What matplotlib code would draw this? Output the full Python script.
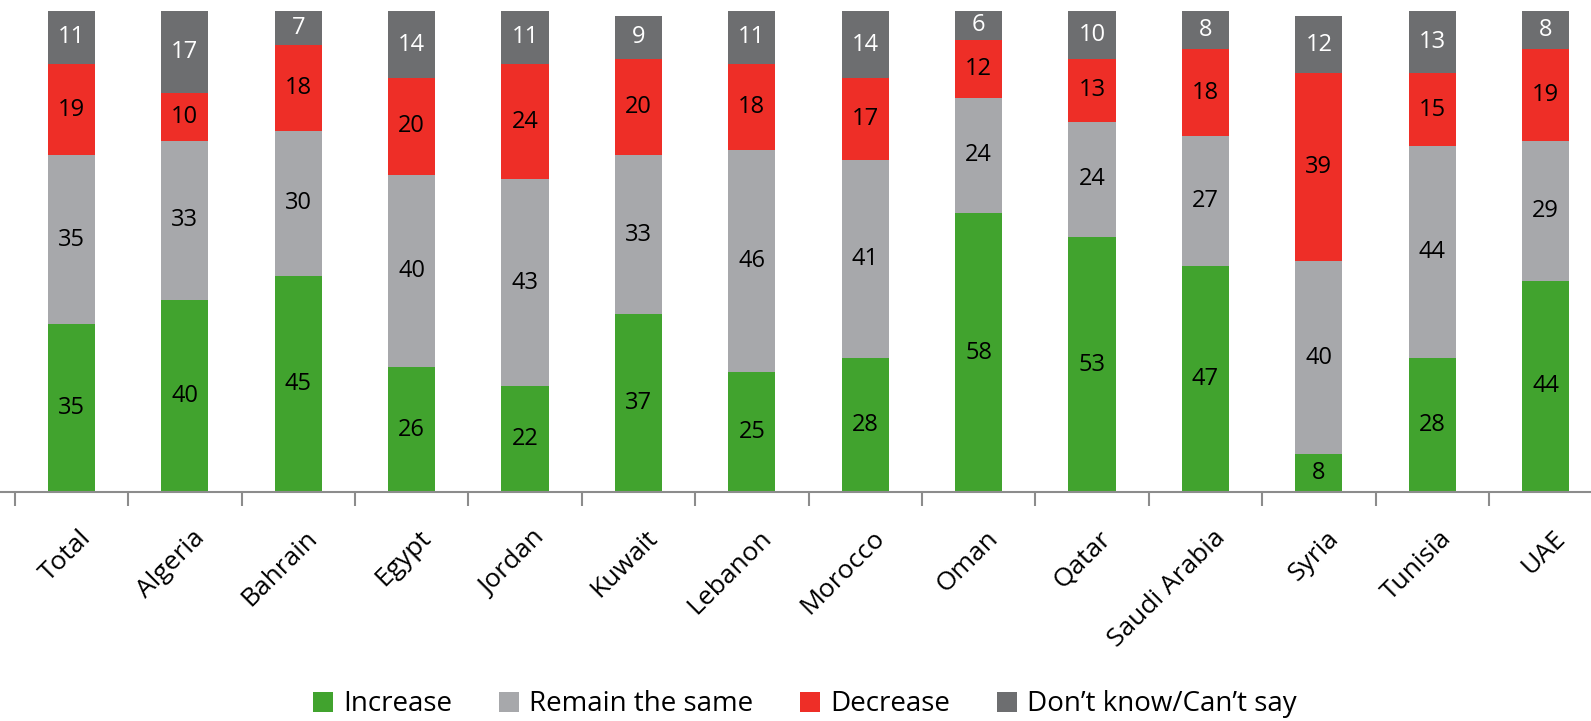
import numpy as np
import matplotlib.pyplot as plt
import matplotlib.transforms as mtransforms

countries = ["Total", "Algeria", "Bahrain", "Egypt", "Jordan", "Kuwait", "Lebanon",
             "Morocco", "Oman", "Qatar", "Saudi Arabia", "Syria", "Tunisia", "UAE"]
increase = [35, 40, 45, 26, 22, 37, 25, 28, 58, 53, 47, 8, 28, 44]
same = [35, 33, 30, 40, 43, 33, 46, 41, 24, 24, 27, 40, 44, 29]
decrease = [19, 10, 18, 20, 24, 20, 18, 17, 12, 13, 18, 39, 15, 19]
dontknow = [11, 17, 7, 14, 11, 9, 11, 14, 6, 10, 8, 12, 13, 8]

series = [("Increase", increase, "#41a32e", "black"),
          ("Remain the same", same, "#a7a8ab", "black"),
          ("Decrease", decrease, "#ee2e27", "black"),
          ("Don\u2019t know/Can\u2019t say", dontknow, "#6d6e70", "white")]

plt.rcParams['font.family'] = ['Open Sans', 'DejaVu Sans']

fig = plt.figure(figsize=(15.91, 7.21), dpi=100)
ax = fig.add_axes([0.0, 0.317, 1.0, 0.668])

x = np.arange(len(countries))
bottom = np.zeros(len(countries))
for name, vals, col, tcol in series:
    vals = np.array(vals, dtype=float)
    ax.bar(x, vals, 0.415, bottom=bottom, color=col, label=name)
    for xi, b, v in zip(x, bottom, vals):
        ax.text(xi, b + v / 2, f"{int(v)}", ha="center", va="center",
                fontsize=17, color=tcol)
    bottom += vals

ax.set_xlim(-0.5 - 14.7 / 113.4, 13.4)
ax.set_ylim(0, 100)
ax.set_yticks([])
for s in ["top", "right", "left"]:
    ax.spines[s].set_visible(False)
ax.spines["bottom"].set_color("#8c8c8c")
ax.spines["bottom"].set_linewidth(1.5)

ax.set_xticks(np.arange(len(countries)) - 0.5, minor=True)
ax.tick_params(axis="x", which="minor", length=10, width=1.5, color="#8c8c8c")
ax.set_xticks(x)
ax.set_xticklabels(countries, rotation=45, ha="right", rotation_mode="anchor",
                   fontsize=19)
ax.tick_params(axis="x", which="major", length=0, pad=24)
shift = mtransforms.ScaledTranslation(0.07, 0, fig.dpi_scale_trans)
for lab in ax.get_xticklabels():
    lab.set_transform(lab.get_transform() + shift)

ax.legend(loc="center", bbox_to_anchor=(0.506, -0.44), ncol=4, frameon=False,
          fontsize=20, handlelength=0.72, handleheight=0.72, columnspacing=1.7,
          handletextpad=0.35)

fig.savefig("out.png", dpi=100)
